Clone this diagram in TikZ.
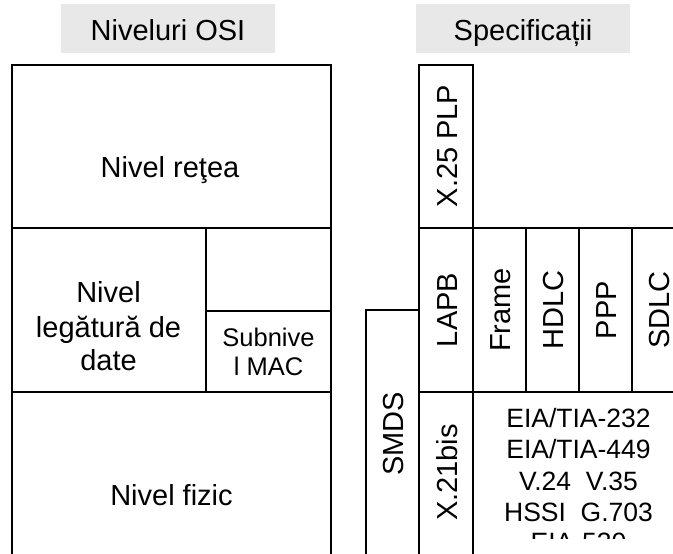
\documentclass[tikz,border=0pt]{standalone}
\usepackage{fontspec}
\setmainfont{Liberation Sans}
\definecolor{hdrgray}{RGB}{232,232,232}
\begin{document}
\begin{tikzpicture}[x=1pt,y=-1pt,
  cell/.style={draw=black,line width=1.8pt},
  lbl/.style={font=\fontsize{29}{33}\selectfont,inner sep=0pt,anchor=base},
  vlbl/.style={font=\fontsize{29}{33}\selectfont,inner sep=0pt,rotate=90,anchor=center},
  small/.style={lbl,font=\fontsize{25.5}{30}\selectfont},
  spec/.style={lbl,font=\fontsize{26.5}{31}\selectfont},
  hdr/.style={fill=hdrgray,minimum width=214pt,minimum height=49pt,inner sep=0pt}]
\useasboundingbox (0,0) rectangle (673,554);
\clip (0,0) rectangle (673,554);
% headers
\node[hdr] (h1box) at (168,28.5) {};
\node[hdr] (h2box) at (523,28.5) {};
\node[lbl] (h1) at (h1box.center |- 0,40) {Niveluri OSI};
\node[lbl] (h2) at (h2box.center |- 0,40) {Specificații};
% OSI column
\draw[cell] (12,65) rectangle (331,228);
\draw[cell] (12,228) rectangle (206,392);
\draw[cell] (206,228) rectangle (331,311);
\draw[cell] (206,311) rectangle (331,392);
\draw[cell] (12,392) rectangle (331,620);
\node[lbl] (retea) at (170,177) {Nivel reţea};
\node[lbl] (leg1) at (108.5,302) {Nivel};
\node[lbl] (leg2) at (108.5,337) {legătură de};
\node[lbl] (leg3) at (108.5,370) {date};
\node[small] (mac1) at (268.5,346) {Subnive};
\node[small] (mac2) at (268.5,375) {l MAC};
\node[lbl] (fizic) at (171.5,505) {Nivel fizic};
% specifications
\draw[cell] (419,65) rectangle (473,228);
\draw[cell] (419,228) rectangle (473,392);
\draw[cell] (473,228) rectangle (526,392);
\draw[cell] (526,228) rectangle (579,392);
\draw[cell] (579,228) rectangle (632,392);
\draw[cell] (632,228) rectangle (686,392);
\draw[cell] (366,310) rectangle (419,620);
\draw[cell] (419,392) rectangle (473,620);
\draw[cell] (473,392) rectangle (700,620);
\node[vlbl] (x25) at (447.5,146) {X.25 PLP};
\node[vlbl] (lapb) at (447.5,310) {LAPB};
\node[vlbl] (frame) at (501,310) {Frame};
\node[vlbl] (hdlc) at (554,310) {HDLC};
\node[vlbl] (ppp) at (607,310) {PPP};
\node[vlbl] (sdlc) at (659.5,310) {SDLC};
\node[vlbl] (smds) at (394,434) {SMDS};
\node[vlbl] (x21) at (447.5,472.5) {X.21bis};
\begin{scope}
\clip (474,393) rectangle (700,538);
\node[spec] (s1) at (578.5,427) {EIA/TIA-232};
\node[spec] (s2) at (578.5,458.5) {EIA/TIA-449};
\node[spec] (s3) at (578.5,490) {V.24\ \ V.35};
\node[spec] (s4) at (578.5,521.5) {HSSI\ \ G.703};
\node[spec] (s5) at (578.5,551.5) {EIA-530};
\end{scope}
\end{tikzpicture}
\end{document}
